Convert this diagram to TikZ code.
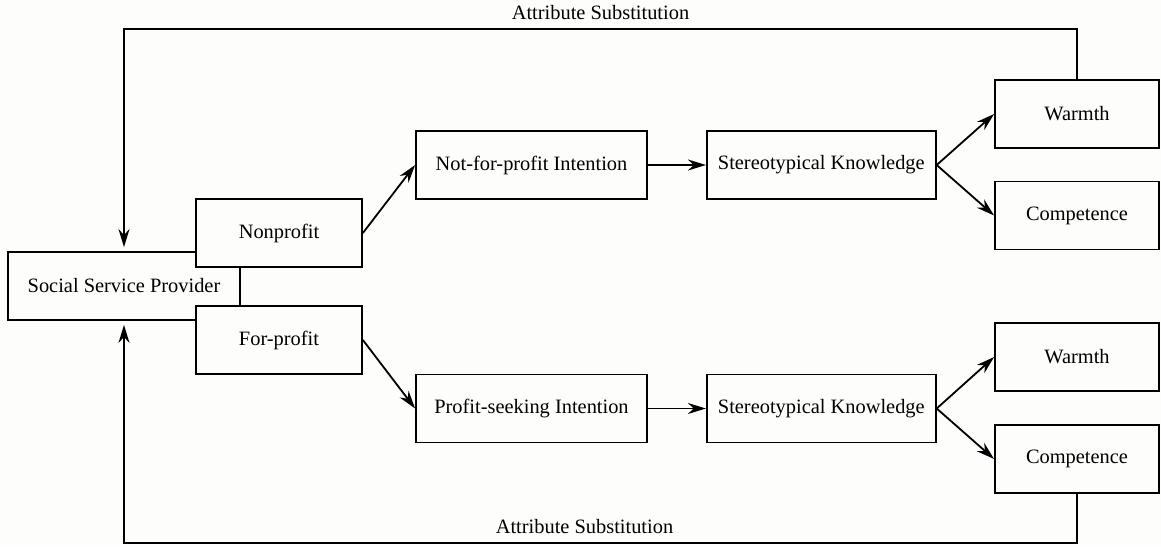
\documentclass[tikz,border=0pt]{standalone}
\usepackage{fontspec}
\setmainfont{Liberation Serif}
\usetikzlibrary{positioning,arrows.meta,calc}
\definecolor{paper}{RGB}{253,253,251}

\begin{document}
\begin{tikzpicture}[x=0.5pt,y=-0.5pt,font=\fontsize{10.2}{12}\selectfont,line width=0.9pt,
    >={Stealth[length=9pt,width=5.5pt]}]
  \tikzstyle{box}=[rectangle,draw,fill=paper,inner sep=0pt,minimum height=34pt]
  \fill[paper] (0,0) rectangle (1161,546);
  \useasboundingbox (0,0) rectangle (1161,546);
  \node[box,minimum width=116pt] (ssp) at (124,286) {Social Service Provider};
  \node[box,minimum width=83pt] (np) at (279,233) {Nonprofit};
  \node[box,minimum width=83pt] (fp) at (279,340) {For-profit};
  \node[box,minimum width=115.5pt] (nfp) at (531.5,165) {Not-for-profit Intention};
  \node[box,minimum width=115.5pt] (psi) at (531.5,408.5) {Profit-seeking Intention};
  \node[box,minimum width=114.5pt] (sk1) [right=29pt of nfp] {Stereotypical Knowledge};
  \node[box,minimum width=114.5pt] (sk2) [right=29pt of psi] {Stereotypical Knowledge};
  \node[box,minimum width=82pt] (w1) at (1077,114) {Warmth};
  \node[box,minimum width=82pt] (c1) at (1077,215.5) {Competence};
  \node[box,minimum width=82pt] (w2) at (1077,357) {Warmth};
  \node[box,minimum width=82pt] (c2) at (1077,459) {Competence};
  % upper branch
  \draw[->] (np.east) -- (nfp.west);
  \draw[->] (nfp) -- (sk1);
  \draw[->] (sk1.east) -- (w1.west);
  \draw[->] (sk1.east) -- (c1.west);
  % lower branch
  \draw[->] (fp.east) -- (psi.west);
  \draw[->] (psi) -- (sk2);
  \draw[->] (sk2.east) -- (w2.west);
  \draw[->] (sk2.east) -- (c2.west);
  % feedback
  \draw[->,shorten >=2pt] (w1.north) -- ++(0,-50) -| node[pos=0.25,above=1pt] {Attribute Substitution} (ssp.north);
  \draw[->,shorten >=2pt] (c2.south) -- ++(0,49) -| node[pos=0.25,above=1pt,xshift=-8pt] {Attribute Substitution} (ssp.south);
\end{tikzpicture}
\end{document}
